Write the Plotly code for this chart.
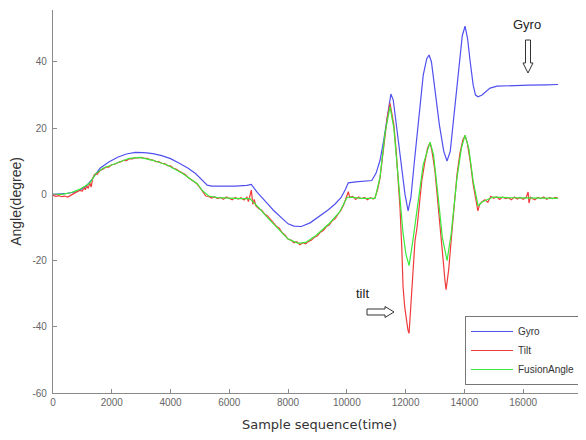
import plotly.graph_objects as go

# ---------------- data ----------------
gyro_x = [0, 400, 800, 1100, 1300, 1600, 1900, 2200, 2500, 2800, 3100, 3400, 3700, 4000,
          4300, 4600, 4850, 5050, 5250, 5400, 5800, 6200, 6600, 6750, 6950, 7100, 7300,
          7500, 7750, 8000, 8200, 8450, 8750, 9050, 9350, 9600, 9800, 9950, 10050, 10300,
          10600, 10850, 11000, 11130, 11250, 11350, 11420, 11500, 11580, 11700, 11850,
          11980, 12085, 12180, 12300, 12450, 12600, 12720, 12800, 12880, 13000, 13150,
          13300, 13410, 13520, 13650, 13800, 13930, 14025, 14110, 14200, 14300, 14380,
          14467, 14600, 14750, 14875, 15114, 15600, 16200, 16800, 17190]
gyro_y = [0, 0.2, 0.8, 2.2, 4.2, 7.9, 9.8, 11.2, 12.2, 12.7, 12.6, 12.3, 11.7, 10.8,
          9.4, 7.9, 6.3, 4.6, 2.8, 2.5, 2.4, 2.5, 2.7, 3.0, 0.6, -1.0, -2.8,
          -4.8, -7.0, -8.9, -9.6, -9.7, -8.6, -6.8, -4.8, -2.9, -1.0, 1.5, 3.5, 3.8,
          3.9, 4.2, 6.5, 10.3, 16.0, 22.0, 27.0, 30.3, 28.5, 20.0, 9.0,
          0.0, -5.0, -1.0, 10.0, 24.0, 36.0, 41.0, 42.1, 40.0, 32.0, 21.0,
          13.0, 10.1, 13.0, 24.0, 38.0, 48.0, 50.8, 47.0, 40.0, 33.0, 30.0,
          29.5, 30.0, 31.3, 32.1, 32.7, 32.9, 33.0, 33.1, 33.2]

tilt_x = [0, 100, 200, 300, 400, 500, 600, 700, 800, 900, 1000, 1050, 1100, 1150, 1200,
          1250, 1300, 1350, 1400, 1450, 1500, 1600, 1700, 1800, 1900, 2000, 2100, 2200,
          2300, 2400, 2500, 2600, 2700, 2800, 2900, 3000, 3100, 3200, 3300, 3400, 3500,
          3600, 3700, 3800, 3900, 4000, 4100, 4200, 4300, 4400, 4500, 4600, 4700, 4800,
          4900, 5000, 5100, 5200, 5300, 5400, 5500, 5600, 5700, 5800, 5900, 6000, 6100,
          6200, 6300, 6400, 6500, 6600, 6650, 6700, 6750, 6800, 6850, 6900, 7000, 7100,
          7200, 7300, 7400, 7500, 7600, 7700, 7800, 7900, 8000, 8100, 8200, 8300, 8400,
          8500, 8600, 8700, 8800, 8900, 9000, 9100, 9200, 9300, 9400, 9500, 9600, 9700,
          9800, 9900, 10000, 10050, 10100, 10200, 10300, 10400, 10500, 10600, 10700,
          10800, 10900, 10960, 11050, 11130, 11200, 11300, 11380, 11470, 11530, 11600,
          11680, 11750, 11810, 11870, 11914, 11970, 12030, 12080, 12118, 12160, 12200,
          12250, 12320, 12390, 12470, 12550, 12650, 12750, 12833, 12900, 13000, 13100,
          13200, 13280, 13340, 13378, 13420, 13470, 13550, 13650, 13750, 13850, 13950,
          14025, 14100, 14200, 14300, 14400, 14460, 14520, 14600, 14700, 14800, 14900,
          15000, 15100, 15200, 15300, 15400, 15500, 15600, 15700, 15800, 15900, 16000,
          16100, 16170, 16200, 16250, 16300, 16400, 16500, 16600, 16700, 16800, 16900,
          17000, 17100, 17190]
tilt_y = [-0.3, -0.6, -0.4, -0.7, -0.5, -0.8, -0.3, 0.2, 0.6, 1.2, 1.0, 2.0, 1.4, 2.6, 1.8,
          3.5, 2.2, 4.8, 5.8, 6.3, 6.0, 7.2, 7.6, 8.3, 8.2, 9.0, 9.1, 9.6,
          9.8, 10.3, 10.2, 10.8, 10.7, 11.1, 11.0, 11.2, 10.9, 10.9, 10.5, 10.4, 9.9,
          9.9, 9.4, 9.3, 8.7, 8.6, 7.9, 7.6, 7.0, 6.5, 6.0, 5.1, 4.5, 4.0,
          3.2, 2.0, 0.6, -0.5, -0.6, -1.1, -0.7, -1.3, -0.9, -1.5, -0.8, -1.2, -1.6,
          -0.9, -1.4, -1.0, -1.7, -0.8, -2.2, -0.5, 1.3, -3.0, -1.5, -3.4, -4.3, -4.8,
          -5.9, -6.5, -7.6, -8.4, -9.6, -10.2, -11.6, -12.3, -13.5, -13.8, -14.6, -14.3, -15.2,
          -14.6, -14.9, -14.2, -13.8, -12.9, -12.5, -11.4, -10.9, -9.8, -9.2, -8.0, -7.4, -6.0,
          -4.8, -3.0, -0.2, 0.8, -0.9, -0.6, -1.5, -0.8, -1.3, -0.9, -1.6,
          -1.0, -1.4, -1.0, 1.5, 5.0, 10.2, 18.0, 23.5, 27.5, 24.0, 21.0,
          13.0, 4.0, -4.0, -16.0, -28.0, -34.0, -38.0, -41.0, -42.0, -36.0, -31.0,
          -22.0, -14.0, -10.0, -3.0, 4.0, 9.5, 14.0, 15.6, 13.0, 7.0, -2.0,
          -12.0, -20.0, -26.0, -28.8, -26.0, -22.5, -14.0, -3.0, 6.0, 12.5, 16.5,
          17.8, 15.5, 10.0, 3.0, -2.0, -5.0, -3.0, -2.2, -1.6, -2.4, -0.6,
          -1.2, -0.7, -1.5, -0.8, -1.3, -1.0, -1.6, -0.8, -1.4, -0.9, -1.5,
          -1.0, 0.7, -2.6, -0.8, -1.2, -1.6, -0.9, -1.3, -0.8, -1.5, -1.0,
          -1.3, -0.9, -1.2]

fusion_x = [0, 300, 600, 900, 1100, 1260, 1450, 1700, 2150, 2600, 2950, 3400, 3900, 4400,
            4700, 4900, 5100, 5300, 5600, 6000, 6400, 6700, 6850, 7000, 7300, 7650, 8000,
            8350, 8600, 8950, 9400, 9750, 10000, 10100, 10500, 10960, 11130, 11300, 11470,
            11600, 11750, 11914, 12010, 12118, 12230, 12400, 12600, 12833, 12950, 13100,
            13250, 13412, 13550, 13750, 13900, 14025, 14150, 14300, 14467, 14603, 14978,
            15500, 16200, 17190]
fusion_y = [0, 0, 0.5, 1.5, 2.5, 3.5, 6.2, 7.9, 9.4, 10.9, 11.2, 10.3, 8.8, 6.4,
            4.5, 3.3, 1.0, -0.5, -1.0, -1.2, -1.3, -1.3, -2.5, -4.0, -7.0, -10.3, -13.5,
            -14.8, -14.5, -12.4, -8.8, -5.4, -1.0, -0.8, -1.2, -1.2, 5.2, 18.5, 26.5,
            20.0, 5.0, -11.8, -18.0, -21.5, -15.0, -4.0, 9.0, 15.8, 12.0, 0.0,
            -13.0, -20.0, -12.0, 5.0, 14.0, 17.9, 14.0, 4.0, -3.5, -2.3, -0.8,
            -1.0, -1.0, -1.2]

series_names = ["Gyro", "Tilt", "FusionAngle"]
series_colors = ["#5050f0", "#f03a3a", "#3aea3a"]

x_ticks = [0, 2000, 4000, 6000, 8000, 10000, 12000, 14000, 16000]
y_ticks = [-60, -40, -20, 0, 20, 40]
x_range = [0, 18140]
y_range = [-60, 55.7]

# ---------------- layout geometry ----------------
# the page body has an 8px default margin, so the figure is drawn 8px in from the
# top-left corner of the window; the figure is sized so the plot area sits where
# the reference has it (page pixels: left 53, right 586, top 10, bottom 393)
OFF = 8
W, H = 586 - OFF, 440 - OFF
ML, MR, MT = 53 - OFF, 0, 10 - OFF
MB = H - (393 - OFF)
PW, PH = W - ML - MR, H - MT - MB


def paper(px, py):
    """page pixel -> paper coordinates"""
    return (px - OFF - ML) / PW, (H - MB - (py - OFF)) / PH


fig = go.Figure()
for name, xs, ys, col in zip(series_names,
                             [gyro_x, tilt_x, fusion_x],
                             [gyro_y, tilt_y, fusion_y],
                             series_colors):
    fig.add_trace(go.Scatter(x=xs, y=ys, mode="lines", name=name,
                             line=dict(color=col, width=1.2)))

axis_common = dict(showline=True, linecolor="#8a8a8a", linewidth=1.2, mirror=False,
                   ticks="inside", ticklen=4, tickcolor="#8a8a8a", showgrid=False,
                   zeroline=False, automargin=False,
                   tickfont=dict(family="Liberation Sans, Arial", size=10, color="#666666"))

fig.update_xaxes(range=x_range, tickvals=x_ticks, ticktext=[str(v) for v in x_ticks],
                 title=dict(text="Sample sequence(time)", standoff=12,
                            font=dict(family="DejaVu Sans", size=13, color="#333333")),
                 **axis_common)
fig.update_yaxes(range=y_range, tickvals=y_ticks, ticktext=[str(v) for v in y_ticks],
                 title=dict(text="Angle(degree)", standoff=8,
                            font=dict(family="Liberation Sans, Arial", size=14, color="#333333")),
                 ticklabelstandoff=3,
                 **axis_common)

lx, ly = paper(465, 316)
fig.update_layout(
    width=W, height=H,
    margin=dict(l=ML, r=MR, t=MT, b=MB, autoexpand=False),
    paper_bgcolor="white", plot_bgcolor="white",
    legend=dict(x=lx, y=ly, xanchor="left", yanchor="top",
                bgcolor="white", bordercolor="#777777", borderwidth=1,
                font=dict(family="Liberation Sans, Arial", size=10, color="#333333"),
                tracegroupgap=0, itemwidth=42),
)

# text labels
for txt, (px, py) in [("Gyro", (527, 25)), ("tilt", (362, 293))]:
    ax_, ay_ = paper(px, py)
    fig.add_annotation(x=ax_, y=ay_, xref="paper", yref="paper", text=txt,
                       showarrow=False, xanchor="center", yanchor="middle",
                       font=dict(family="Liberation Sans, Arial", size=13, color="#222222"))


# hollow block arrows (pixel outlines converted to paper coordinates)
def path_from_pixels(pts):
    parts = []
    for i, (px, py) in enumerate(pts):
        x, y = paper(px, py)
        parts.append(("M" if i == 0 else "L") + f"{x:.5f},{y:.5f}")
    return " ".join(parts) + " Z"


down_arrow = [(525.5, 40), (530.5, 40), (530.5, 63), (533, 63), (528, 73),
              (523, 63), (525.5, 63)]
right_arrow = [(367, 309), (385, 309), (385, 306.5), (394, 312), (385, 317.5),
               (385, 315), (367, 315)]
for pts in (down_arrow, right_arrow):
    fig.add_shape(type="path", path=path_from_pixels(pts), xref="paper", yref="paper",
                  line=dict(color="#333333", width=1), fillcolor="white")

fig.write_html("out.html")
